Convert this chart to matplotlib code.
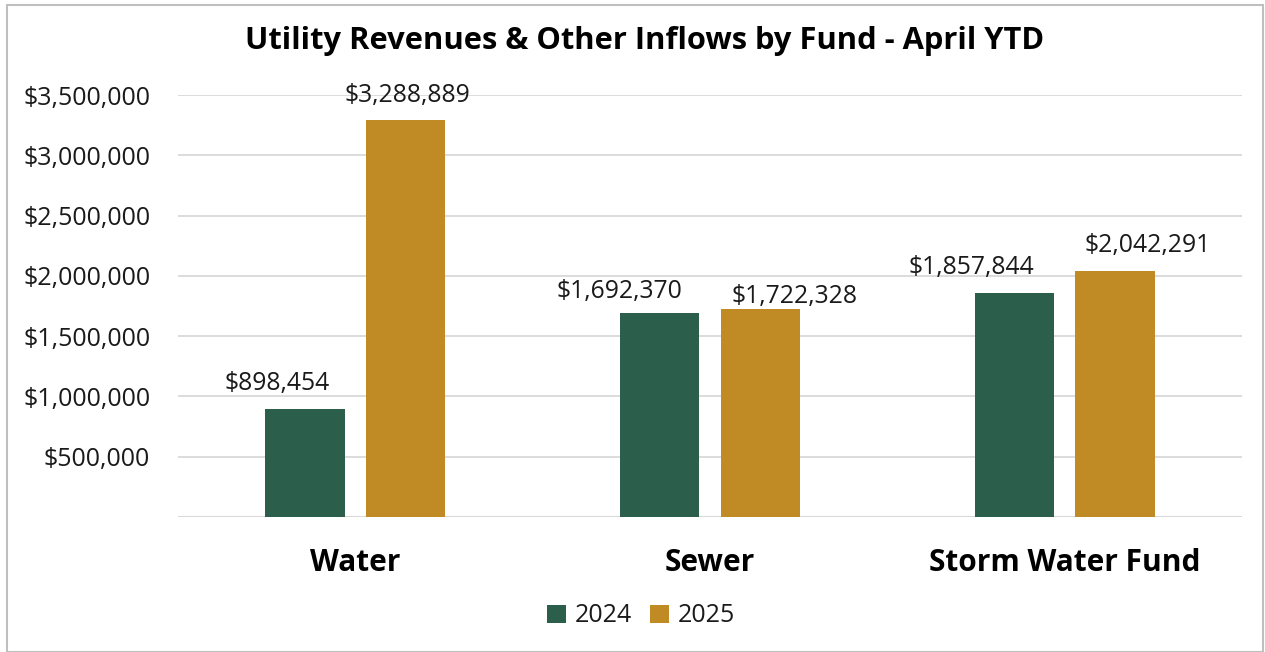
import numpy as np
import matplotlib.pyplot as plt
from matplotlib.ticker import FuncFormatter
from matplotlib.patches import Rectangle

plt.rcParams['font.family'] = ['Open Sans', 'DejaVu Sans']

# data
funds = ["Water", "Sewer", "Storm Water Fund"]
rev_2024 = [898454, 1692370, 1857844]
rev_2025 = [3288889, 1722328, 2042291]
years = ["2024", "2025"]

# label nudges (pixels) so the value labels don't collide, like the original
nudge_2024 = [(-28, 0), (-40, -4), (-43, 0)]
nudge_2025 = [(2, 0), (34, -12), (33, 0)]

green = "#2b5f4c"
gold = "#c08a24"
text_col = "#1a1a1a"

fig = plt.figure(figsize=(12.65, 6.52), dpi=100)
ax = fig.add_axes([178 / 1265, 1 - 517 / 652, (1242 - 178) / 1265, (517 - 95) / 652])

x = np.arange(len(funds))
w = 0.223
off = 0.142
b1 = ax.bar(x - off, rev_2024, w, color=green, label=years[0], zorder=3)
b2 = ax.bar(x + off, rev_2025, w, color=gold, label=years[1], zorder=3)

for bars, nudges in ((b1, nudge_2024), (b2, nudge_2025)):
    for r, (dx, dy) in zip(bars, nudges):
        v = r.get_height()
        ax.annotate(f"${v:,.0f}", (r.get_x() + r.get_width() / 2, v),
                    xytext=(dx * 0.72, 9 + dy * 0.72), textcoords="offset points",
                    ha="center", va="bottom", fontsize=17.8, color=text_col)

ax.set_xlim(-0.5, 2.5)
ax.set_ylim(0, 3500000)
ax.set_yticks(np.arange(500000, 3500001, 500000))
ax.yaxis.set_major_formatter(FuncFormatter(lambda v, p: f"${v:,.0f}"))
ax.grid(axis="y", color="#d9d9d9", linewidth=1.3, zorder=0)
ax.axhline(0, color="#d9d9d9", linewidth=1.5, zorder=1)
for s in ax.spines.values():
    s.set_visible(False)
ax.tick_params(axis="y", length=0, pad=20, labelsize=18, labelcolor=text_col)
ax.set_xticks(x)
ax.set_xticklabels(funds, fontsize=21.5, fontweight="bold", color="black")
ax.tick_params(axis="x", length=0, pad=22)

fig.text(645 / 1265, 1 - 41 / 652, "Utility Revenues & Other Inflows by Fund - April YTD",
         ha="center", va="center", fontsize=22.2, fontweight="bold", color="black")

fig.legend(handles=[b1, b2], labels=years, loc="center", bbox_to_anchor=(641 / 1265, 1 - 616 / 652),
           ncol=2, frameon=False, fontsize=18, handlelength=0.75, handleheight=0.75,
           handletextpad=0.35, columnspacing=0.75, labelcolor=text_col)

# outer chart border
fig.patches.append(Rectangle((7 / 1265, 0), 1256 / 1265, 1 - 5 / 652, transform=fig.transFigure,
                             fill=False, edgecolor="#bfbfbf", linewidth=1.5))

fig.savefig("out.png", dpi=100)
